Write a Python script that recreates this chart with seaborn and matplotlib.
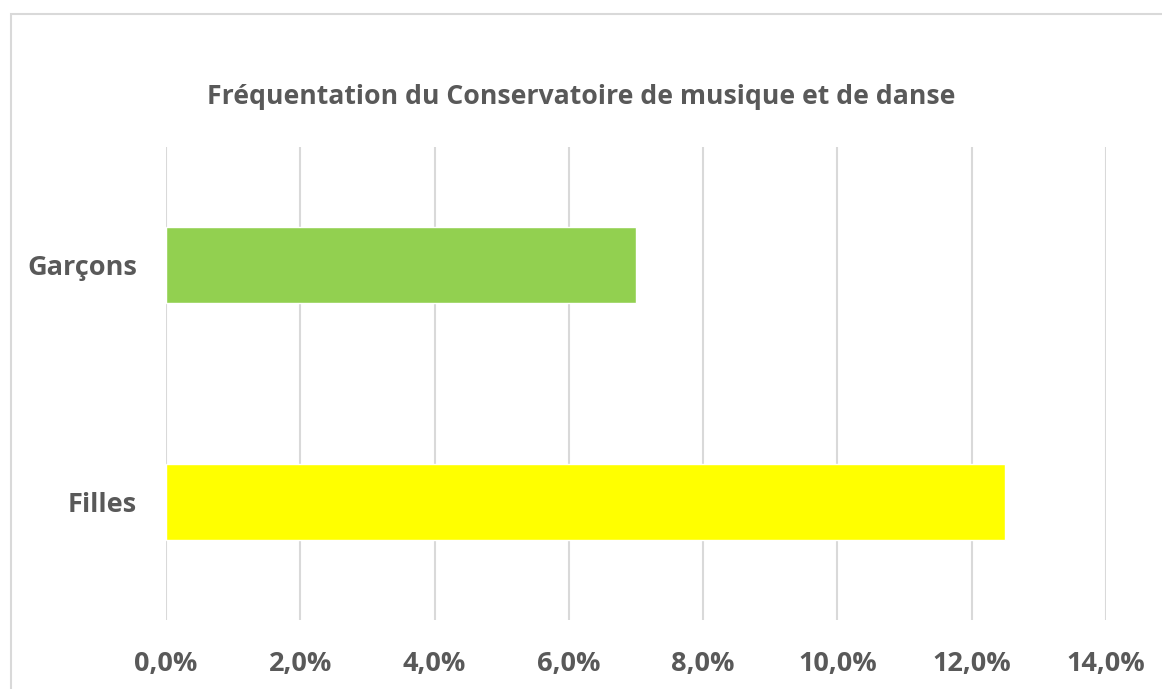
import matplotlib
matplotlib.use("Agg")
import matplotlib.pyplot as plt
import seaborn as sns
import pandas as pd
from matplotlib.patches import Rectangle
from matplotlib.ticker import FuncFormatter

categories = ["Garçons", "Filles"]
values = [7.0, 12.5]
bar_colors = ["#92d050", "#ffff00"]
x_ticks = [0, 2, 4, 6, 8, 10, 12, 14]

TEXT = "#595959"
GRID = "#d9d9d9"

sns.set_theme(style="white")
plt.rcParams["font.family"] = ["Open Sans", "DejaVu Sans"]

df = pd.DataFrame({"groupe": categories, "part": values})

fig = plt.figure(figsize=(11.62, 6.89), dpi=100)
ax = fig.add_axes([166 / 1162, 1 - 620 / 689, (1106 - 166) / 1162, (620 - 147) / 689])

sns.barplot(data=df, x="part", y="groupe", hue="groupe", palette=bar_colors,
            saturation=1, legend=False, width=0.32, ax=ax, zorder=3)

ax.set_xlim(0, 14)
ax.set_xticks(x_ticks)
ax.xaxis.set_major_formatter(FuncFormatter(lambda v, p: f"{v:.1f}%".replace(".", ",")))
ax.grid(axis="x", color=GRID, linewidth=1.5, zorder=0)
ax.set_axisbelow(True)
for s in ax.spines.values():
    s.set_visible(False)
ax.set_xlabel("")
ax.set_ylabel("")
ax.tick_params(axis="x", length=0, pad=22.5, labelsize=19.5, labelcolor=TEXT)
ax.tick_params(axis="y", length=0, pad=21, labelsize=19.5, labelcolor=TEXT)
for lab in ax.get_xticklabels() + ax.get_yticklabels():
    lab.set_fontweight("bold")

fig.text(0.5, 1 - 97 / 689, "Fréquentation du Conservatoire de musique et de danse",
         ha="center", va="center", fontsize=19.2, fontweight="bold", color=TEXT)

# chart border
fig.patches.append(Rectangle((11 / 1162, -0.01), 1.05, 1 - 14 / 689 + 0.01,
                             transform=fig.transFigure, fill=False,
                             edgecolor=GRID, linewidth=1.5))

fig.savefig("out.png", dpi=100)
